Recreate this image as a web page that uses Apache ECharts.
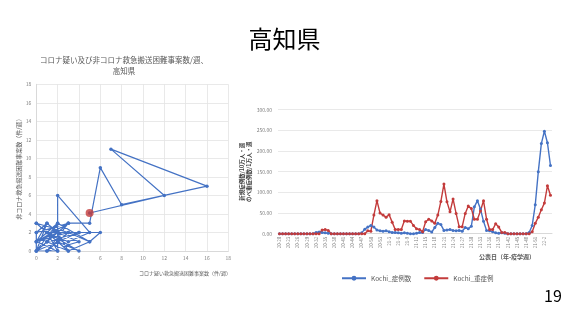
<!DOCTYPE html>
<html><head><meta charset="utf-8">
<script src="https://cdn.jsdelivr.net/npm/echarts@6/dist/echarts.min.js"></script>
<style>html,body{margin:0;padding:0;background:#fff}#c{width:569px;height:320px}</style>
</head><body><div id="c"></div>
<script>
const FONT = "'Noto Sans CJK JP', 'Noto Sans', sans-serif";
// Left chart: path of weekly points (x = suspected COVID, y = non-COVID)
const scatterX = [0,0,1,0,2,1,0,2,1,3, 0,2,3,1,2,0,2,2,5,3, 1,4,2,0,3,5,6,4,1,3, 0,1,2,4,1,3,0,2,5,3, 1,4,2,0,1,3,5,6,8,16, 7,12,5];
const scatterY = [2,0,3,1,0,2,3,1,0,3, 1,2,0,1,3,0,0,6,2,1, 2,0,1,3,2,1,2,2,1,3, 2,3,2,1,0,2,1,3,1,0, 2,2,1,0,1,3,3,9,5,7, 11,6,4.1];
// Right chart: weeks (year-week)
const weeks = [
 "20-20","20-21","20-22","20-23","20-24","20-25","20-26","20-27","20-28","20-29",
 "20-30","20-31","20-32","20-33","20-34","20-35","20-36","20-37","20-38","20-39",
 "20-40","20-41","20-42","20-43","20-44","20-45","20-46","20-47","20-48","20-49",
 "20-50","20-51","20-52","20-53",
 "21-1","21-2","21-3","21-4","21-5","21-6","21-7","21-8","21-9","21-10",
 "21-11","21-12","21-13","21-14","21-15","21-16","21-17","21-18","21-19","21-20",
 "21-21","21-22","21-23","21-24","21-25","21-26","21-27","21-28","21-29","21-30",
 "21-31","21-32","21-33","21-34","21-35","21-36","21-37","21-38","21-39","21-40",
 "21-41","21-42","21-43","21-44","21-45","21-46","21-47","21-48","21-49","21-50",
 "21-51","21-52",
 "22-1","22-2","22-3","22-4"
];
const kochiCases = [
 0,0,0,0,0,0,0,0,0,0, 0,0,3,4,3,2,1,0,0,0,
 0,0,0,0,0,0,0,2,11,16, 20,16,9,7,6,7,5,3,3,2,
 1,2,1,0,0,1,3,3,10,8, 4,15,25,22,8,9,10,8,7,8,
 6,15,12,18,65,80,60,30,8,7, 5,2,1,2,1,0,0,0,0,0,
 0,0,3,20,70,150,218,248,220,165
];
const kochiSevere = [
 0,0,0,0,0,0,0,0,0,0, 0,0,0,0,9,10,8,0,0,0,
 0,0,0,0,0,0,0,0,0,7, 6,45,80,50,45,40,46,28,10,10,
 10,31,30,30,20,12,10,5,29,35, 31,25,45,78,120,77,53,84,49,17,
 17,49,67,61,35,35,55,80,35,10, 10,24,16,3,3,0,0,0,0,0,
 0,0,0,5,25,40,58,74,116,93
];
const seriesNames = ["Kochi_症例数", "Kochi_重症例"];
const BLUE = "#4472C4", RED = "#C33B3B";

const chart = echarts.init(document.getElementById('c'), null, {renderer: 'canvas'});
const pathData = scatterX.map((x, i) => [x, scatterY[i]]);
const last = pathData[pathData.length - 1];

const option = {
  backgroundColor: '#fff',
  animation: false,
  textStyle: {fontFamily: FONT},
  grid: [
    {left: 36.3, top: 84.3, width: 192, height: 166.7},
    {left: 278, top: 109.7, width: 274, height: 124}
  ],
  xAxis: [
    {gridIndex: 0, type: 'value', min: 0, max: 18, interval: 2,
     axisLine: {show: true, lineStyle: {color: '#d9d9d9'}}, axisTick: {show: false},
     axisLabel: {fontSize: 5, color: '#7f7f7f', margin: 5, fontFamily: FONT},
     splitLine: {show: true, lineStyle: {color: '#e3e3e3', width: 0.8}}},
    {gridIndex: 1, type: 'category', data: weeks, boundaryGap: true,
     axisLine: {show: true, lineStyle: {color: '#d9d9d9'}}, axisTick: {show: false},
     axisLabel: {interval: 2, rotate: 90, fontSize: 4.5, color: '#7f7f7f', margin: 3, fontFamily: FONT},
     splitLine: {show: false}}
  ],
  yAxis: [
    {gridIndex: 0, type: 'value', min: 0, max: 18, interval: 2,
     name: '非コロナ救急搬送困難事案数（件/週）', nameLocation: 'middle', nameRotate: 90, nameGap: 13,
     nameTextStyle: {fontSize: 6, color: '#595959', fontFamily: FONT},
     axisLine: {show: true, lineStyle: {color: '#d9d9d9'}}, axisTick: {show: false},
     axisLabel: {fontSize: 5, color: '#7f7f7f', margin: 5, fontFamily: FONT},
     splitLine: {show: true, lineStyle: {color: '#e3e3e3', width: 0.8}}},
    {gridIndex: 1, type: 'value', min: 0, max: 300, interval: 50,
     name: '新規症例数/10万人・週\nのべ重症例数/1万人・週', nameLocation: 'middle', nameRotate: 90, nameGap: 22,
     nameTextStyle: {fontSize: 5.5, color: '#404040', fontWeight: 'bold', lineHeight: 7, fontFamily: FONT},
     axisLine: {show: false}, axisTick: {show: false},
     axisLabel: {fontSize: 5, color: '#7f7f7f', margin: 6, fontFamily: FONT,
                 formatter: v => v.toFixed(2)},
     splitLine: {show: true, lineStyle: {color: '#e3e3e3', width: 0.8}}}
  ],
  legend: {
    left: 336, top: 270, itemWidth: 24, itemHeight: 6, itemGap: 12,
    textStyle: {fontSize: 6.5, color: '#595959', fontFamily: FONT},
    data: seriesNames
  },
  series: [
    {type: 'line', xAxisIndex: 0, yAxisIndex: 0, data: pathData,
     symbol: 'circle', symbolSize: 3.5, showSymbol: true, showAllSymbol: true,
     lineStyle: {color: BLUE, width: 1.2}, itemStyle: {color: BLUE}, z: 2},
    {type: 'scatter', xAxisIndex: 0, yAxisIndex: 0, data: [last],
     symbol: 'circle', symbolSize: 8, itemStyle: {color: RED}, z: 5},
    {name: seriesNames[0], type: 'line', xAxisIndex: 1, yAxisIndex: 1, data: kochiCases,
     symbol: 'circle', symbolSize: 3, showSymbol: true, showAllSymbol: true,
     lineStyle: {color: BLUE, width: 1.4}, itemStyle: {color: BLUE}},
    {name: seriesNames[1], type: 'line', xAxisIndex: 1, yAxisIndex: 1, data: kochiSevere,
     symbol: 'circle', symbolSize: 3, showSymbol: true, showAllSymbol: true,
     lineStyle: {color: RED, width: 1.4}, itemStyle: {color: RED}}
  ],
  graphic: [
    {type: 'text', x: 284.5, y: 39, style: {text: '高知県', font: '24px ' + FONT, fill: '#000', align: 'center', verticalAlign: 'middle'}},
    {type: 'text', x: 124, y: 60, style: {text: 'コロナ疑い及び非コロナ救急搬送困難事案数/週、', font: '7.5px ' + FONT, fill: '#595959', align: 'center', verticalAlign: 'middle'}},
    {type: 'text', x: 124, y: 71, style: {text: '高知県', font: '7.5px ' + FONT, fill: '#595959', align: 'center', verticalAlign: 'middle'}},
    {type: 'text', x: 185, y: 273, style: {text: 'コロナ疑い救急搬送困難事案数（件/週）', font: '5px ' + FONT, fill: '#595959', align: 'center', verticalAlign: 'middle'}},
    {type: 'text', x: 507, y: 257, style: {text: '公表日（年-疫学週）', font: 'bold 6px ' + FONT, fill: '#595959', align: 'center', verticalAlign: 'middle'}},
    {type: 'text', x: 553, y: 296, style: {text: '19', font: '16px ' + FONT, fill: '#000', align: 'center', verticalAlign: 'middle'}}
  ]
};
chart.setOption(option);
</script>
</body></html>
